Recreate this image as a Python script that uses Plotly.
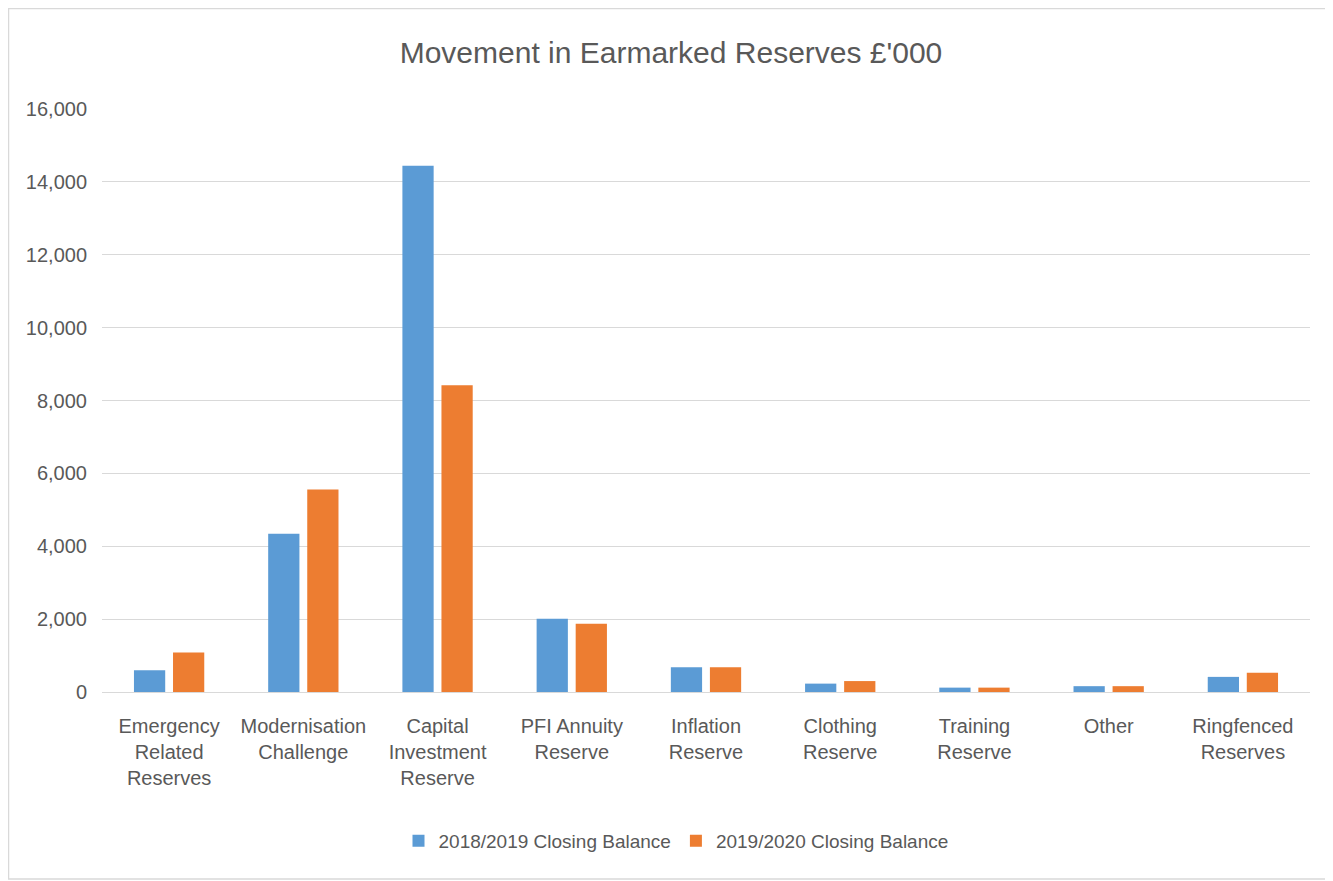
import plotly.graph_objects as go

categories = [
    "Emergency<br>Related<br>Reserves",
    "Modernisation<br>Challenge",
    "Capital<br>Investment<br>Reserve",
    "PFI Annuity<br>Reserve",
    "Inflation<br>Reserve",
    "Clothing<br>Reserve",
    "Training<br>Reserve",
    "Other",
    "Ringfenced<br>Reserves",
]
balance_2018_19 = [600, 4340, 14440, 2010, 680, 230, 120, 160, 415]
balance_2019_20 = [1085, 5555, 8420, 1870, 680, 300, 120, 160, 525]
series_names = ["2018/2019 Closing Balance", "2019/2020 Closing Balance"]
y_ticks = [0, 2000, 4000, 6000, 8000, 10000, 12000, 14000, 16000]

FONT = "Liberation Sans, Arial, sans-serif"
GREY = "#595959"

fig = go.Figure()
fig.add_trace(go.Bar(x=categories, y=balance_2018_19, name=series_names[0],
                     marker=dict(color="#5b9bd5", line=dict(width=0))))
fig.add_trace(go.Bar(x=categories, y=balance_2019_20, name=series_names[1],
                     marker=dict(color="#ed7d31", line=dict(width=0))))

OFF = 8  # page offset of the figure
W, H = 1333, 881
L, T = 102 - OFF, 109 - OFF
R = W - (1310 - OFF)
B = H - (692 - OFF)
pw, ph = W - L - R, H - T - B


def px_x(p):
    return (p - OFF - L) / pw


def px_y(p):
    return (H - B - (p - OFF)) / ph


fig.update_layout(
    width=W, height=H,
    margin=dict(l=L, r=R, t=T, b=B),
    paper_bgcolor="white", plot_bgcolor="white",
    font=dict(family=FONT, color=GREY, size=20),
    title=dict(text="Movement in Earmarked Reserves £'000", x=px_x(671), xref="paper",
               xanchor="center", y=1 - (52 - OFF) / H, yanchor="middle",
               font=dict(size=30, color=GREY, family=FONT)),
    barmode="group", bargap=0.418, bargroupgap=0.2,
    showlegend=True,
    legend=dict(orientation="h", x=px_x(676), xanchor="center",
                y=px_y(841), yanchor="middle",
                font=dict(size=19, color=GREY, family=FONT),
                itemwidth=30, tracegroupgap=0),
    xaxis=dict(showgrid=False, tickfont=dict(size=20, color=GREY), ticks="",
               showline=False, ticklabelstandoff=20),
    yaxis=dict(range=[0, 16000], tickvals=y_ticks, tickformat=",d",
               showgrid=True, gridcolor="#d9d9d9", gridwidth=1,
               zeroline=True, zerolinecolor="#d9d9d9", zerolinewidth=1,
               tickfont=dict(size=20, color=GREY), ticks="", ticklen=0,
               showline=False, ticklabelstandoff=14),
    shapes=[dict(type="rect", xref="paper", yref="paper",
                 x0=(0.5 - L) / pw, x1=px_x(1328),
                 y0=px_y(879), y1=(H - B - 0.5) / ph,
                 line=dict(color="#d9d9d9", width=1.5), fillcolor="rgba(0,0,0,0)",
                 layer="below")],
)

fig.write_html("out.html")
